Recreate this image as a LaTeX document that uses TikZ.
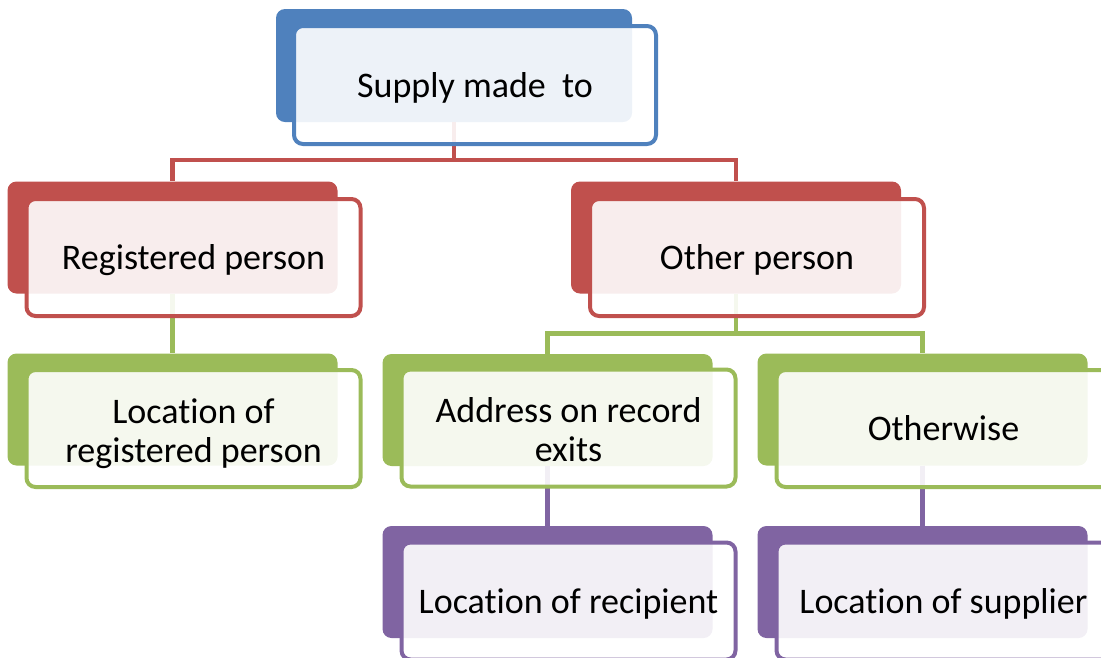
\documentclass[tikz,border=0pt]{standalone}
\usepackage{fontspec}
\setmainfont[Ligatures = NoCommon]{Carlito}
\usepackage{tikz}
\definecolor{sblue}{HTML}{4F81BD}
\definecolor{sred}{HTML}{C0504D}
\definecolor{sgreen}{HTML}{9BBB59}
\definecolor{spurple}{HTML}{8064A2}
\newcommand{\upstrut}{\rule{0pt}{37pt}}

\begin{document}
\begin{tikzpicture}[x = 1pt, y = -1pt,
        back/.style = {fill = #1, rounded corners = 9pt, minimum width = 330pt, minimum height = 112pt, inner sep = 0pt},
        front/.style = {draw = #1, line width = 4pt, fill = white, fill opacity = 0.9, text opacity = 1, rounded corners = 9pt, minimum width = 334pt, minimum height = 117pt, inner sep = 0pt, align = center, font = \fontsize{36}{39}\selectfont,
            execute at begin node = \rule[-9pt]{0pt}{42pt}, execute at end node = \rule[-9pt]{0pt}{36pt}},
        link/.style = {draw = #1, line width = 4.5pt}]
        \useasboundingbox (0, 0) rectangle (1101, 657);
        % coloured back plates
        \node[back = sblue, minimum width = 356pt, minimum height = 113pt] (top) at (454, 65.5) {};
        \node[back = sred] (reg) at (172.5, 237.5) {};
        \node[back = sred] (oth) at (736, 237.5) {};
        \node[back = sgreen] (locreg) at (172.5, 409.5) {};
        \node[back = sgreen] (addr) at (547.5, 410) {};
        \node[back = sgreen] (othw) at (922.5, 409.5) {};
        \node[back = spurple] (rec) at (547.5, 582) {};
        \node[back = spurple] (sup) at (922.5, 582) {};
        % connectors
        \draw[link = sred] (top.south) -- ++(0, 38) -| (reg.north);
        \draw[link = sred] (top.south) -- ++(0, 38) -| (oth.north);
        \draw[link = sgreen] (reg.south) -- (locreg.north);
        \draw[link = sgreen] (oth.south) -- ++(0, 40) -| (addr.north);
        \draw[link = sgreen] (oth.south) -- ++(0, 40) -| (othw.north);
        \draw[link = spurple] (addr.south) -- (rec.north);
        \draw[link = spurple] (othw.south) -- (sup.north);
        % text boxes in front
        \node[front = sblue, minimum width = 362pt, minimum height = 118pt] (topF) at ([shift = {(21, 19.5)}] top.center) {Supply made~ to};
        \node[front = sred] (regF) at ([shift = {(21, 20)}] reg.center) {Registered person};
        \node[front = sred] (othF) at ([shift = {(21, 20)}] oth.center) {Other person};
        \node[front = sgreen] (locregF) at ([shift = {(21, 19)}] locreg.center) {\upstrut Location of\\registered person};
        \node[front = sgreen] (addrF) at ([shift = {(21, 18)}] addr.center) {\upstrut Address on record\\exits};
        \node[front = sgreen] (othwF) at ([shift = {(21, 19)}] othw.center) {Otherwise};
        \node[front = spurple] (recF) at ([shift = {(21, 19)}] rec.center) {Location of recipient};
        \node[front = spurple] (supF) at ([shift = {(21, 19)}] sup.center) {Location of supplier};
    \end{tikzpicture}
\end{document}
